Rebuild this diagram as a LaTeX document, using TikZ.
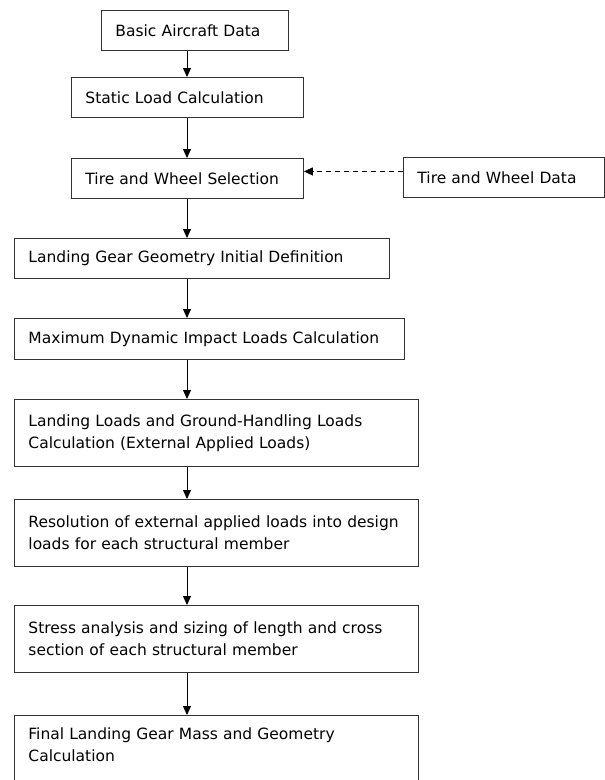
\documentclass[tikz,border=0pt]{standalone}
\usepackage{fontspec}
\setmainfont{DejaVu Sans}
\usetikzlibrary{arrows.meta, positioning, calc}

\begin{document}
\begin{tikzpicture}[
  x=1pt, y=-1pt,
  font=\fontsize{15.5}{22}\selectfont,
  blocco/.style={draw=black!80, line width=0.9pt, anchor=north west, align=left,
                 inner xsep=14pt, inner ysep=0pt},
  punta/.style={-{Triangle[length=9pt,width=8pt]}},
  collegamento/.style={draw=black, line width=0.9pt, punta},
  tratteggiato/.style={draw=black, line width=0.9pt, dash pattern=on 5pt off 4pt, punta}
]
\useasboundingbox (0,0) rectangle (605,780);

\node[blocco, text width=159pt, minimum height=40pt] (B1) at (101,10)  {Basic Aircraft Data};
\node[blocco, text width=204pt, minimum height=40pt] (B2) at (71,77)   {Static Load Calculation};
\node[blocco, text width=204pt, minimum height=40pt] (B3) at (71,158)  {Tire and Wheel Selection};
\node[blocco, text width=173pt, minimum height=40pt] (D)  at (403,157) {Tire and Wheel Data};
\node[blocco, text width=347pt, minimum height=40pt] (B4) at (14,238)  {Landing Gear Geometry Initial Definition};
\node[blocco, text width=362pt, minimum height=41pt] (B5) at (14,318)  {Maximum Dynamic Impact Loads Calculation};
\node[blocco, text width=376pt, minimum height=67pt] (B6) at (14,399)
  {Landing Loads and Ground-Handling Loads\\ Calculation (External Applied Loads)};
\node[blocco, text width=376pt, minimum height=67pt] (B7) at (14,499)
  {Resolution of external applied loads into design\\ loads for each structural member};
\node[blocco, text width=376pt, minimum height=67pt] (B8) at (14,605)
  {Stress analysis and sizing of length and cross\\ section of each structural member};
\node[blocco, text width=376pt, minimum height=80pt] (B9) at (14,715)
  {Final Landing Gear Mass and Geometry\\ Calculation\\ \mbox{}};

% asse delle frecce
\coordinate (asse) at (187,0);
\foreach \a/\b in {B1/B2, B2/B3, B3/B4, B4/B5, B5/B6, B6/B7, B7/B8, B8/B9}
  \draw[collegamento] (\a.south -| asse) -- (\b.north -| asse);

\draw[tratteggiato] ([yshift=6pt]D.west) -- ([yshift=6pt]D.west -| B3.east);

\end{tikzpicture}
\end{document}
